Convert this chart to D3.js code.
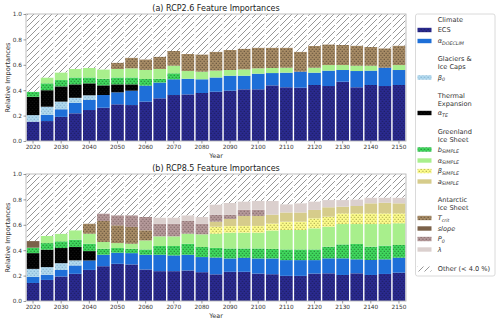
<!DOCTYPE html>
<html><head><meta charset="utf-8">
<script src="https://cdn.jsdelivr.net/npm/d3@7"></script>
<style>body{margin:0;background:#fff} svg{display:block;font-family:"DejaVu Sans",sans-serif}</style>
</head><body><svg id="c" width="500" height="322"></svg>
<script>
const years = [2020,2025,2030,2035,2040,2045,2050,2055,2060,2065,2070,2075,2080,2085,2090,2095,2100,2105,2110,2115,2120,2125,2130,2135,2140,2145,2150];
const tickYears = [2020,2030,2040,2050,2060,2070,2080,2090,2100,2110,2120,2130,2140,2150];
const yTicks = [0,0.2,0.4,0.6,0.8,1.0];
const features = ["ECS","α_DOECLIM","β_0","α_TE","b_SIMPLE","α_SIMPLE","β_SIMPLE","a_SIMPLE","T_crit","slope","P_0","λ"];
const titles = ["(a) RCP2.6 Feature Importances","(b) RCP8.5 Feature Importances"];

// RCP2.6
const a_ECS   = [.152,.157,.19,.218,.244,.262,.289,.283,.31,.336,.362,.367,.378,.388,.396,.407,.407,.438,.423,.42,.441,.433,.467,.423,.441,.433,.441];
const a_DOE   = [0,.048,.06,.082,.079,.10,.094,.113,.126,.124,.124,.123,.108,.112,.118,.107,.123,.097,.115,.126,.097,.121,.092,.128,.113,.144,.118];
const a_beta0 = [.052,.065,.06,.04,.037,0,0,0,0,0,0,0,0,0,0,0,0,0,0,0,0,0,0,0,0,0,0];
const a_aTE   = [.144,.13,.12,.106,.094,.076,.063,.05,0,0,0,0,0,0,0,0,0,0,0,0,0,0,0,0,0,0,0];
const a_bS    = [.04,.054,.05,.054,.046,.052,.054,.054,.052,.03,.047,0,0,0,0,0,0,0,0,0,0,0,0,0,0,0,0];
const a_alS   = [0,.046,.06,.067,.075,.074,.067,.072,.072,.077,.06,.061,.06,.054,.045,.05,.042,.04,.039,0,.039,.044,.039,.042,.039,0,.039];
const a_betS  = [0,0,0,0,0,0,0,0,0,0,0,0,0,0,0,0,0,0,0,0,0,0,0,0,0,0,0];
const a_aS    = [0,0,0,0,0,0,0,0,0,0,0,0,0,0,0,0,0,0,0,0,0,0,0,0,0,0,0];
const a_Tcrit = [0,0,0,0,0,0,.05,.084,.083,.097,.116,.134,.136,.149,.158,.163,.163,.16,.158,.157,.171,.163,.158,.158,.147,.153,.153];
const a_slope = [0,0,0,0,0,0,0,0,0,0,0,0,0,0,0,0,0,0,0,0,0,0,0,0,0,0,0];
const a_P0    = [0,0,0,0,0,0,0,0,0,0,0,0,0,0,0,0,0,0,0,0,0,0,0,0,0,0,0];
const a_lam   = [0,0,0,0,0,0,0,0,0,0,0,0,0,0,0,0,0,0,0,0,0,0,0,0,0,0,0];

// RCP8.5
const b_ECS   = [.142,.166,.193,.214,.245,.274,.293,.288,.248,.235,.235,.24,.227,.21,.23,.23,.216,.211,.198,.198,.216,.218,.205,.218,.205,.213,.223];
const b_DOE   = [.048,.04,.052,.066,.074,.09,.087,.089,.116,.129,.124,.124,.119,.132,.105,.11,.119,.124,.124,.124,.106,.118,.131,.11,.118,.115,.118];
const b_beta0 = [.063,.061,.053,.04,0,0,0,0,0,0,0,0,0,0,0,0,0,0,0,0,0,0,0,0,0,0,0];
const b_aTE   = [.124,.137,.119,.105,.074,0,0,0,0,0,0,0,0,0,0,0,0,0,0,0,0,0,0,0,0,0,0];
const b_bS    = [.043,.052,.053,.058,.058,.048,.037,.035,.042,.069,.074,.087,.079,.076,.079,.074,.079,.075,.084,.084,.084,.092,.11,.121,.105,.108,.1];
const b_alS   = [0,.056,.06,.074,.079,.053,.039,.039,.071,.076,.076,.079,.1,.112,.124,.124,.124,.145,.153,.153,.166,.157,.16,.157,.178,.17,.171];
const b_betS  = [0,0,0,0,0,0,0,0,0,0,0,0,0,.055,.052,.053,.053,.055,.066,.066,.079,.079,.084,.084,.084,.084,.078];
const b_aS    = [0,0,0,0,0,0,0,0,0,0,0,0,0,.04,.056,.079,.079,.07,.072,.072,.066,.074,.053,.058,.079,.084,.079];
const b_Tcrit = [0,0,0,0,.08,.165,.14,.132,.08,0,0,0,0,0,0,0,0,0,0,0,0,0,0,0,0,0,0];
const b_slope = [.052,0,0,0,0,0,0,0,0,0,0,0,0,0,0,0,0,0,0,0,0,0,0,0,0,0,0];
const b_P0    = [0,0,0,0,0,.059,.079,.092,.105,.1,.1,.1,.084,.055,.032,.048,.048,0,0,0,0,0,0,0,0,0,0];
const b_lam   = [0,0,0,0,0,0,0,0,0,.048,.048,.045,.053,.08,.094,.066,.071,.108,.065,.073,.067,.057,.052,.052,.045,.04,.045];

const seriesA = [a_ECS,a_DOE,a_beta0,a_aTE,a_bS,a_alS,a_betS,a_aS,a_Tcrit,a_slope,a_P0,a_lam];
const seriesB = [b_ECS,b_DOE,b_beta0,b_aTE,b_bS,b_alS,b_betS,b_aS,b_Tcrit,b_slope,b_P0,b_lam];

// styling
const colors = ["#2a2a90","#1e6fd8","#b1d9ee","#000000","#40d95e","#a8ef8c","#fdfc8c","#d6cc8b","#a88c66","#7b6149","#b5999a","#dbd0ce"];
const dotColors = ["#111133",null,"#5c8fb8","#222",  "#0a3a12",null,"#6a6a20",null,"#2a2218",null,"#5a4444",null];

const svg = d3.select("#c");
const defs = svg.append("defs");
features.forEach((f,i)=>{
  const p = defs.append("pattern").attr("id","p"+i).attr("patternUnits","userSpaceOnUse")
    .attr("width",3.5).attr("height",4);
  p.append("rect").attr("width",3.5).attr("height",4).attr("fill",colors[i]);
  if (dotColors[i]) {
    p.append("rect").attr("x",0.6).attr("y",0.8).attr("width",0.9).attr("height",0.9).attr("fill",dotColors[i]);
    p.append("rect").attr("x",2.35).attr("y",2.8).attr("width",0.9).attr("height",0.9).attr("fill",dotColors[i]);
  }
});
const hp = defs.append("pattern").attr("id","hatch").attr("patternUnits","userSpaceOnUse").attr("width",6).attr("height",6);
hp.append("rect").attr("width",6).attr("height",6).attr("fill","#fff");
hp.append("path").attr("d","M-1,1 L1,-1 M0,6 L6,0 M5,7 L7,5").attr("stroke","#6a6a6a").attr("stroke-width",0.7);

const x = d3.scaleBand().domain(years).range([26,406]).paddingInner(0.1).paddingOuter(0.05);
const panels = [{top:14,bottom:141,series:seriesA,title:titles[0]},{top:174,bottom:301,series:seriesB,title:titles[1]}];

function labelText(sel, name, size){
  const parts = name.split("_");
  if (parts.length===1) {
    sel.append("tspan").text(name).attr("font-style", name==="ECS"?"normal":"italic");
  } else {
    sel.append("tspan").text(parts[0]).attr("font-style","italic");
    sel.append("tspan").text(parts[1]).attr("font-style","italic").attr("font-size",size*0.72).attr("dy",size*0.25);
  }
}

panels.forEach(pn=>{
  const y = d3.scaleLinear().domain([0,1]).range([pn.bottom,pn.top]);
  const g = svg.append("g");
  years.forEach((yr,j)=>{
    let cum = 0;
    pn.series.forEach((s,i)=>{
      const v = s[j];
      if (v>0){
        g.append("rect").attr("x",x(yr)).attr("width",x.bandwidth())
          .attr("y",y(cum+v)).attr("height",y(cum)-y(cum+v)).attr("fill","url(#p"+i+")");
        cum += v;
      }
    });
    g.append("rect").attr("x",x(yr)).attr("width",x.bandwidth())
      .attr("y",y(1)).attr("height",y(cum)-y(1)).attr("fill","url(#hatch)");
  });
  // frame
  svg.append("rect").attr("x",26).attr("y",pn.top).attr("width",380).attr("height",pn.bottom-pn.top)
    .attr("fill","none").attr("stroke","#b8b8b8").attr("stroke-width",0.9);
  const xa = svg.append("g").attr("transform",`translate(0,${pn.bottom})`)
    .call(d3.axisBottom(x).tickValues(tickYears).tickSize(2.5).tickPadding(1.5));
  const ya = svg.append("g").attr("transform",`translate(26,0)`)
    .call(d3.axisLeft(y).tickValues(yTicks).tickFormat(d3.format(".1f")).tickSize(2.5).tickPadding(1.5));
  [xa,ya].forEach(a=>{
    a.select(".domain").remove();
    a.selectAll(".tick line").attr("stroke","#555").attr("stroke-width",0.6);
    a.selectAll("text").attr("font-size",5.8).attr("fill","#333").attr("font-family","DejaVu Sans");
  });
  svg.append("text").attr("x",216).attr("y",pn.top-3).attr("text-anchor","middle")
    .attr("font-size",8).attr("fill","#222").text(pn.title);
  svg.append("text").attr("x",216).attr("y",pn.bottom+17).attr("text-anchor","middle")
    .attr("font-size",6.4).attr("fill","#333").text("Year");
  svg.append("text").attr("transform",`translate(9.5,${(pn.top+pn.bottom)/2}) rotate(-90)`)
    .attr("text-anchor","middle").attr("font-size",6.6).attr("fill","#333").text("Relative Importances");
});

// legend
const lg = svg.append("g");
lg.append("rect").attr("x",415.5).attr("y",14).attr("width",79.5).attr("height",262).attr("rx",2)
  .attr("fill","#fff").attr("stroke","#d0d0d0").attr("stroke-width",0.8);
const headers = [["Climate"],["Glaciers &","Ice Caps"],["Thermal","Expansion"],["Greenland","Ice Sheet"],["Antarctic","Ice Sheet"]];
const headerY = [20,59,96,131.5,200];
headers.forEach((h,k)=>{
  h.forEach((t,m)=>{
    lg.append("text").attr("x",437.7).attr("y",headerY[k]+m*7.7+2.3).attr("font-size",6.6).attr("fill","#333").text(t);
  });
});
const itemY = [30,41,77.5,113,149.5,160.5,171,181.5,218,228.5,239,249.5];
features.forEach((f,i)=>{
  lg.append("rect").attr("x",417.5).attr("y",itemY[i]-2.2).attr("width",14).attr("height",4.4).attr("fill","url(#p"+i+")");
  const t = lg.append("text").attr("x",437.7).attr("y",itemY[i]+2.2).attr("font-size",6.6).attr("fill","#333");
  labelText(t,f,6.6);
});
lg.append("rect").attr("x",417.5).attr("y",269-2.5).attr("width",14).attr("height",5).attr("fill","url(#hatch)");
lg.append("text").attr("x",437.7).attr("y",271.3).attr("font-size",6.6).attr("fill","#333").text("Other (< 4.0 %)");
</script></body></html>
